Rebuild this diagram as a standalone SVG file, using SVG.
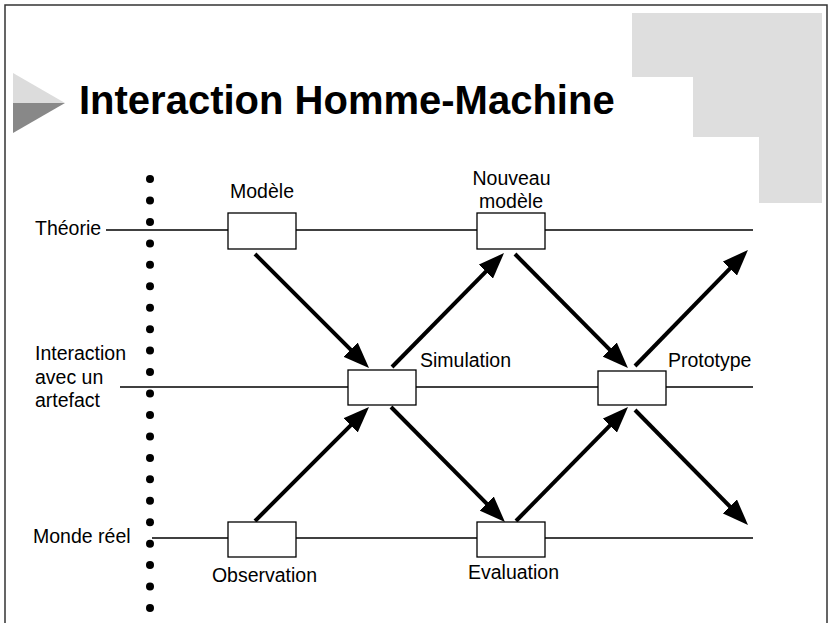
<svg xmlns="http://www.w3.org/2000/svg" width="829" height="623" viewBox="0 0 829 623">
<style>
text{font-family:"Liberation Sans",Arial,sans-serif;font-size:19.5px;fill:#000}
.title{font-size:40px;font-weight:bold}
.box{fill:#fff;stroke:#000;stroke-width:1.3}
.axis{stroke:#000;stroke-width:1.3;fill:none}
.arrow{stroke:#000;stroke-width:4;fill:none;marker-end:url(#ah)}
.dot{fill:#000}
</style>
<defs>
<marker id="ah" markerUnits="userSpaceOnUse" markerWidth="26" markerHeight="20" viewBox="0 0 26 20" refX="6" refY="10" orient="auto">
<path d="M0,0 L26,10 L0,20 Z" fill="#000"/>
</marker>
</defs>
<rect width="829" height="623" fill="#fff"/>
<path d="M5,623 V5 H827 V623" fill="none" stroke="#333" stroke-width="1.5"/>
<polygon points="632,13 822,13 822,203 759,203 759,137 693,137 693,77 632,77" fill="#dedede"/>
<polygon points="13,73 65,103 13,103" fill="#dcdcdc"/>
<polygon points="13,103 65,103 13,133" fill="#888"/>
<text class="title" x="79" y="114">Interaction Homme-Machine</text>

<g id="dots">
<circle class="dot" cx="150" cy="179" r="4"/>
<circle class="dot" cx="150" cy="200.5" r="4"/>
<circle class="dot" cx="150" cy="221.9" r="4"/>
<circle class="dot" cx="150" cy="243.4" r="4"/>
<circle class="dot" cx="150" cy="264.8" r="4"/>
<circle class="dot" cx="150" cy="286.3" r="4"/>
<circle class="dot" cx="150" cy="307.7" r="4"/>
<circle class="dot" cx="150" cy="329.2" r="4"/>
<circle class="dot" cx="150" cy="350.6" r="4"/>
<circle class="dot" cx="150" cy="372.1" r="4"/>
<circle class="dot" cx="150" cy="393.5" r="4"/>
<circle class="dot" cx="150" cy="415" r="4"/>
<circle class="dot" cx="150" cy="436.4" r="4"/>
<circle class="dot" cx="150" cy="457.9" r="4"/>
<circle class="dot" cx="150" cy="479.3" r="4"/>
<circle class="dot" cx="150" cy="500.8" r="4"/>
<circle class="dot" cx="150" cy="522.2" r="4"/>
<circle class="dot" cx="150" cy="543.7" r="4"/>
<circle class="dot" cx="150" cy="565.1" r="4"/>
<circle class="dot" cx="150" cy="586.6" r="4"/>
<circle class="dot" cx="150" cy="608" r="4"/>
</g>

<g id="levels">
<line class="axis" x1="106" y1="230" x2="753" y2="230"/>
<line class="axis" x1="120" y1="387" x2="753" y2="387"/>
<line class="axis" x1="152" y1="538" x2="753" y2="538"/>
<text x="35" y="235">Théorie</text>
<text x="35" y="360">Interaction</text>
<text x="35" y="383.5">avec un</text>
<text x="35" y="407">artefact</text>
<text x="33" y="543">Monde réel</text>
</g>

<g id="connectors">
<line class="arrow" x1="255" y1="254" x2="354.9" y2="353.9"/>
<line class="arrow" x1="255" y1="521" x2="354.9" y2="421.1"/>
<line class="arrow" x1="392" y1="367" x2="490" y2="267.3"/>
<line class="arrow" x1="391" y1="407" x2="490.9" y2="507.8"/>
<line class="arrow" x1="515" y1="254" x2="613.9" y2="353.8"/>
<line class="arrow" x1="516" y1="521" x2="614" y2="421.3"/>
<line class="arrow" x1="635" y1="366" x2="734" y2="264.3"/>
<line class="arrow" x1="635" y1="410" x2="734" y2="510.7"/>
</g>

<g id="modele">
<rect class="box" x="228" y="213" width="68" height="36"/>
<text x="262" y="198" text-anchor="middle">Modèle</text>
</g>
<g id="nouveau-modele">
<rect class="box" x="477" y="213" width="68" height="36"/>
<text x="511.5" y="185" text-anchor="middle">Nouveau</text>
<text x="511" y="208" text-anchor="middle">modèle</text>
</g>
<g id="simulation">
<rect class="box" x="348" y="370" width="68" height="35"/>
<text x="420" y="367">Simulation</text>
</g>
<g id="prototype">
<rect class="box" x="598" y="371" width="68" height="34"/>
<text x="668" y="367">Prototype</text>
</g>
<g id="observation">
<rect class="box" x="228" y="522" width="68" height="35"/>
<text x="264.5" y="582" text-anchor="middle">Observation</text>
</g>
<g id="evaluation">
<rect class="box" x="477" y="522" width="68" height="35"/>
<text x="513.5" y="578.5" text-anchor="middle">Evaluation</text>
</g>
</svg>
